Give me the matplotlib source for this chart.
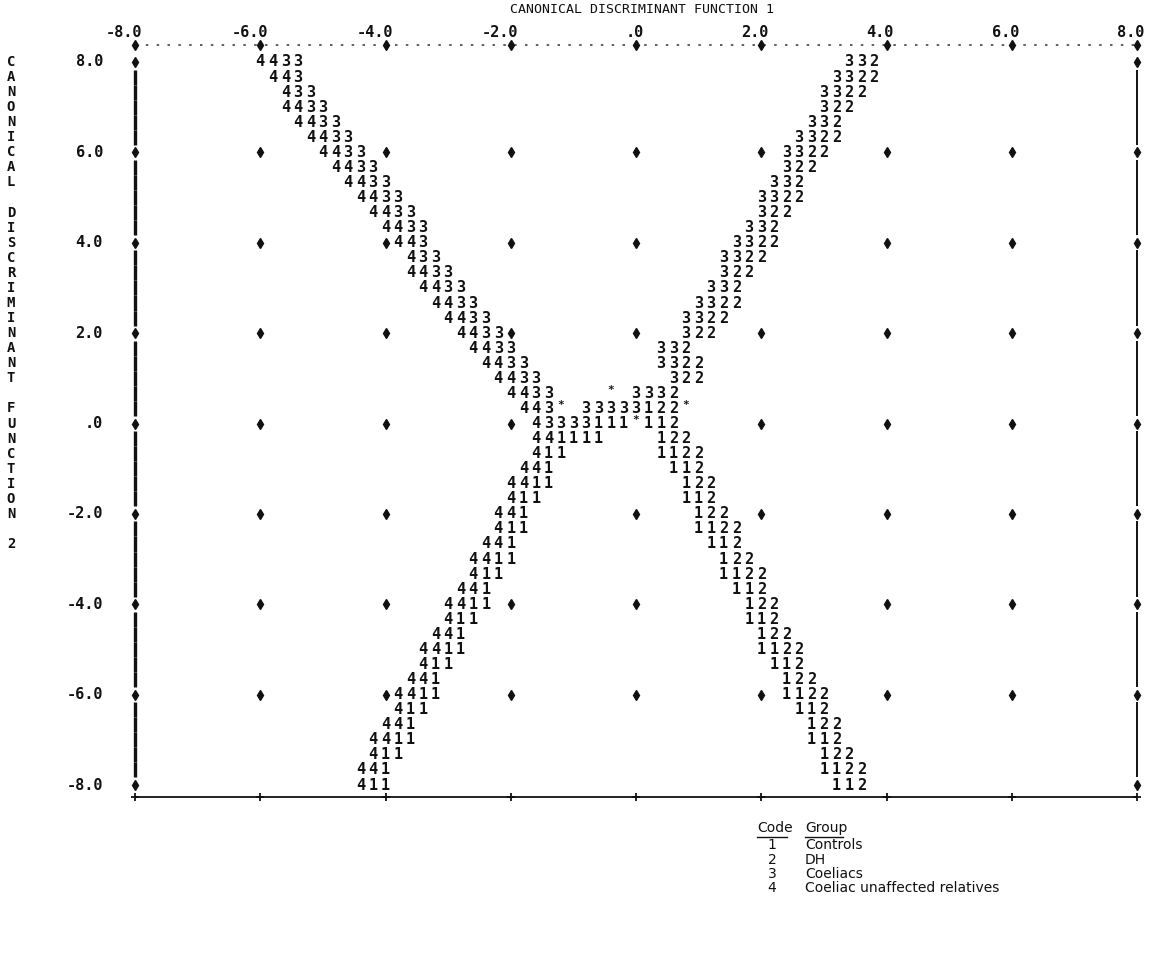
import matplotlib
matplotlib.use("Agg")
import matplotlib.pyplot as plt

# ---------------- data: territorial map (SPSS style) ----------------
x_ticks = [-8, -6, -4, -2, 0, 2, 4, 6, 8]
x_labels = ["-8.0", "-6.0", "-4.0", "-2.0", ".0", "2.0", "4.0", "6.0", "8.0"]
y_ticks = [8, 6, 4, 2, 0, -2, -4, -6, -8]
y_labels = ["8.0", "6.0", "4.0", "2.0", ".0", "-2.0", "-4.0", "-6.0", "-8.0"]
x_title = "CANONICAL DISCRIMINANT FUNCTION 1"
y_title = "CANONICAL DISCRIMINANT FUNCTION 2"

N_COLS = 81          # map columns, -8.0 .. 8.0, step 0.2
N_ROWS = 49          # map rows, 8.0 .. -8.0, step 1/3
COL_STEP = 0.2
ROW_STEP = 1.0 / 3.0

# boundary strings: (row index, first column index, characters)
bnd_4_3 = [(0, 10, "4433"), (1, 11, "443"), (2, 12, "433"), (3, 12, "4433"),
           (4, 13, "4433"), (5, 14, "4433"), (6, 15, "4433"), (7, 16, "4433"),
           (8, 17, "4433"), (9, 18, "4433"), (10, 19, "4433"), (11, 20, "4433"),
           (12, 21, "443"), (13, 22, "433"), (14, 22, "4433"), (15, 23, "4433"),
           (16, 24, "4433"), (17, 25, "4433"), (18, 26, "4433"), (19, 27, "4433"),
           (20, 28, "4433"), (21, 29, "4433"), (22, 30, "4433"), (23, 31, "443*")]
bnd_3_2 = [(0, 57, "332"), (1, 56, "3322"), (2, 55, "3322"), (3, 55, "322"),
           (4, 54, "332"), (5, 53, "3322"), (6, 52, "3322"), (7, 52, "322"),
           (8, 51, "332"), (9, 50, "3322"), (10, 50, "322"), (11, 49, "332"),
           (12, 48, "3322"), (13, 47, "3322"), (14, 47, "322"), (15, 46, "332"),
           (16, 45, "3322"), (17, 44, "3322"), (18, 44, "322"), (19, 42, "332"),
           (20, 42, "3322"), (21, 43, "322"), (22, 40, "3332")]
centre = [(22, 38, "*"), (23, 36, "33333122*"), (24, 32, "43333111*112"),
          (25, 32, "441111")]
bnd_4_1 = [(26, 32, "411"), (27, 31, "441"), (28, 30, "4411"), (29, 30, "411"),
           (30, 29, "441"), (31, 29, "411"), (32, 28, "441"), (33, 27, "4411"),
           (34, 27, "411"), (35, 26, "441"), (36, 25, "4411"), (37, 25, "411"),
           (38, 24, "441"), (39, 23, "4411"), (40, 23, "411"), (41, 22, "441"),
           (42, 21, "4411"), (43, 21, "411"), (44, 20, "441"), (45, 19, "4411"),
           (46, 19, "411"), (47, 18, "441"), (48, 18, "411")]
bnd_1_2 = [(25, 42, "122"), (26, 42, "1122"), (27, 43, "112"), (28, 44, "122"),
           (29, 44, "112"), (30, 45, "122"), (31, 45, "1122"), (32, 46, "112"),
           (33, 47, "122"), (34, 47, "1122"), (35, 48, "112"), (36, 49, "122"),
           (37, 49, "112"), (38, 50, "122"), (39, 50, "1122"), (40, 51, "112"),
           (41, 52, "122"), (42, 52, "1122"), (43, 53, "112"), (44, 54, "122"),
           (45, 54, "112"), (46, 55, "122"), (47, 55, "1122"), (48, 56, "112")]

legend_codes = ["1", "2", "3", "4"]
legend_groups = ["Controls", "DH", "Coeliacs", "Coeliac unaffected relatives"]

# ---------------- figure / scales ----------------
W, H = 1151, 956
fig = plt.figure(figsize=(W / 100, H / 100), dpi=100)
ax = fig.add_axes([0, 0, 1, 1])
ax.axis("off")

XL, XR = 135, 1137     # pixel of x=-8 and x=8
YT, YB = 62, 785       # pixel of y=8 and y=-8
ux = (XR - XL) / 16.0
uy = (YB - YT) / 16.0
ax.set_xlim(-8 - XL / ux, 8 + (W - XR) / ux)
ax.set_ylim(8 - (H - YT) / uy, 8 + YT / uy)


def P(xp, yp):
    """pixel position -> data coords (for layout text only)"""
    return (-8 + (xp - XL) / ux, 8 - (yp - YT) / uy)


def col_x(c):
    return -8 + COL_STEP * c


def row_y(r):
    return 8 - ROW_STEP * r


MONO = "DejaVu Sans Mono"
INK = "#111111"

# ---------------- map characters ----------------
occupied = set()
for seq in (bnd_4_3, bnd_3_2, centre, bnd_4_1, bnd_1_2):
    for r, c0, txt in seq:
        for i, ch in enumerate(txt):
            c = c0 + i
            occupied.add((r, c))
            if ch == "*":
                ax.text(col_x(c), row_y(r) + 0.08, "*", ha="center", va="center",
                        family=MONO, fontweight="bold", fontsize=8, color=INK)
            else:
                ax.text(col_x(c), row_y(r), ch, ha="center", va="center",
                        family=MONO, fontweight="bold", fontsize=11, color=INK)

# ---------------- grid '+' marks on labelled rows ----------------
tick_cols = [int(round((t + 8) / COL_STEP)) for t in x_ticks]
tick_rows = [int(round((8 - t) / ROW_STEP)) for t in y_ticks]
px, py = [], []
for r in tick_rows[1:-1]:
    for c in tick_cols[1:-1]:
        if (r, c) not in occupied:
            px.append(col_x(c))
            py.append(row_y(r))
ax.plot(px, py, ls="none", marker="d", ms=5.5, color=INK)

# ---------------- frame ----------------
top_y = row_y(-1.1)
bot_y = row_y(N_ROWS - 0.2)
# left / right border: 'I' columns, broken at labelled rows
for r in range(N_ROWS):
    if r not in tick_rows:
        ax.vlines(col_x(0), row_y(r) - 0.5 * ROW_STEP, row_y(r) + 0.5 * ROW_STEP,
                  color=INK, lw=2.4)
        ax.vlines(col_x(N_COLS - 1), row_y(r) - 0.5 * ROW_STEP, row_y(r) + 0.5 * ROW_STEP,
                  color=INK, lw=1.4)
ax.plot([col_x(0)] * len(tick_rows), [row_y(r) for r in tick_rows], ls="none",
        marker="d", ms=5.5, color=INK)
ax.plot([col_x(N_COLS - 1)] * len(tick_rows), [row_y(r) for r in tick_rows], ls="none",
        marker="d", ms=5.5, color=INK)
# top border: dotted with tick marks
ax.plot([col_x(0), col_x(N_COLS - 1)], [top_y, top_y], color="#444444", lw=1.2,
        ls=(0, (1.5, 5)))
ax.plot(x_ticks, [top_y] * len(x_ticks), ls="none", marker="d", ms=5.5, color=INK)
# bottom border: solid with '+' ticks
ax.plot([col_x(0), col_x(N_COLS - 1)], [bot_y, bot_y], color=INK, lw=1.3)
ax.plot(x_ticks, [bot_y] * len(x_ticks), ls="none", marker="+", ms=6, mew=1.3,
        color=INK)

# ---------------- axis labels ----------------
for t, lab in zip(x_ticks, x_labels):
    ax.text(t + 0.12, top_y + 0.12, lab, ha="right", va="bottom", family=MONO,
            fontweight="bold", fontsize=11, color=INK)
for t, lab in zip(y_ticks, y_labels):
    ax.text(P(103, 0)[0], t, lab, ha="right", va="center", family=MONO,
            fontweight="bold", fontsize=11, color=INK)

ax.text(*P(642, 9), x_title, ha="center", va="center", family=MONO,
        fontsize=9.5, color=INK)

# vertical title, one letter per map row
r = 0
for word in y_title.split(" "):
    for ch in word:
        ax.text(P(11, 0)[0], row_y(r), ch, ha="center", va="center", family=MONO,
                fontweight="bold", fontsize=10, color=INK)
        r += 1
    r += 1

# ---------------- legend ----------------
LEG_FONT = "DejaVu Sans"
ax.text(*P(757, 828), "Code", ha="left", va="center", family=LEG_FONT,
        fontsize=10, color=INK)
ax.text(*P(805, 828), "Group", ha="left", va="center", family=LEG_FONT,
        fontsize=10, color=INK)
ax.plot([P(757, 0)[0], P(787, 0)[0]], [P(0, 837)[1]] * 2, color=INK, lw=1.0)
ax.plot([P(805, 0)[0], P(843, 0)[0]], [P(0, 837)[1]] * 2, color=INK, lw=1.0)
for i, (cd, gp) in enumerate(zip(legend_codes, legend_groups)):
    yy = P(0, 845 + 14.5 * i)[1]
    ax.text(P(772, 0)[0], yy, cd, ha="center", va="center", family=LEG_FONT,
            fontsize=10, color=INK)
    ax.text(P(805, 0)[0], yy, gp, ha="left", va="center", family=LEG_FONT,
            fontsize=10, color=INK)

fig.savefig("out.png", dpi=100, facecolor="white")
